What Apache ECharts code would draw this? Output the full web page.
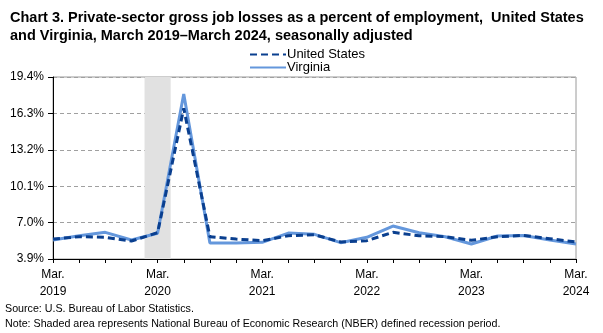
<!DOCTYPE html>
<html><head><meta charset="utf-8">
<script src="https://cdn.jsdelivr.net/npm/echarts@6/dist/echarts.min.js"></script>
<style>html,body{margin:0;padding:0;background:#fff}#c{width:603px;height:333px}</style>
</head><body><div id="c"></div>
<script>
const quarters = ['Mar 2019','Jun 2019','Sep 2019','Dec 2019','Mar 2020','Jun 2020','Sep 2020','Dec 2020','Mar 2021','Jun 2021','Sep 2021','Dec 2021','Mar 2022','Jun 2022','Sep 2022','Dec 2022','Mar 2023','Jun 2023','Sep 2023','Dec 2023','Mar 2024'];
const unitedStates = [5.60,5.80,5.75,5.43,6.14,16.73,5.80,5.60,5.46,5.88,5.96,5.35,5.46,6.17,5.88,5.80,5.49,5.80,5.91,5.63,5.35];
const virginia = [5.52,5.88,6.17,5.52,6.09,17.95,5.26,5.26,5.32,6.11,6.00,5.29,5.75,6.71,6.14,5.80,5.18,5.86,5.91,5.52,5.18];
const yearLabels = ['2019','2020','2021','2022','2023','2024'];
const recession = [3.5, 4.5];
const yTicks = {min:3.9, max:19.4, interval:3.1};

const chart = echarts.init(document.getElementById('c'), null, {renderer:'canvas'});
const font = '"Liberation Sans", Arial, sans-serif';
chart.setOption({
  animation:false,
  textStyle:{fontFamily:font},
  title:{
    text:'Chart 3. Private-sector gross job losses as a percent of employment,  United States\nand Virginia, March 2019\u2013March 2024, seasonally adjusted',
    left:5, top:4,
    textStyle:{fontFamily:font, fontSize:14.5, fontWeight:'bold', color:'#000', lineHeight:18}
  },
  legend:{
    orient:'vertical', left:244, top:43, itemGap:0, itemWidth:36, itemHeight:12,
    itemStyle:{opacity:0},
    textStyle:{fontFamily:font, fontSize:13, color:'#000', padding:[0,0,0,-4]},
    data:['United States','Virginia']
  },
  grid:{left:53, right:27, top:77, bottom:74, show:true, borderColor:'#9a9a9a', borderWidth:1},
  xAxis:{
    type:'value', min:0, max:quarters.length-1, interval:1,
    axisLine:{show:true, lineStyle:{color:'#000', width:1}},
    axisTick:{show:true, length:4, lineStyle:{color:'#000'}},
    splitLine:{show:false},
    axisLabel:{
      fontFamily:font, fontSize:12, color:'#000', lineHeight:17, margin:7,
      formatter:function(v){ return v%4===0 ? 'Mar.\n'+yearLabels[v/4] : ''; }
    }
  },
  yAxis:{
    type:'value', min:yTicks.min, max:yTicks.max, interval:yTicks.interval,
    axisLine:{show:true, lineStyle:{color:'#000', width:1}},
    axisTick:{show:true, length:5, lineStyle:{color:'#000'}},
    splitLine:{show:true, lineStyle:{color:'#a0a0a0', type:[4,3], width:1}},
    axisLabel:{fontFamily:font, fontSize:12, color:'#000', margin:9,
      formatter:function(v){ return v.toFixed(1)+'%'; }}
  },
  series:[
    {
      name:'United States', type:'line', symbol:'none', z:3,
      data:unitedStates.map((v,i)=>[i,v]),
      lineStyle:{color:'#0a3f8f', width:3, type:[7,4]},
      itemStyle:{color:'#0a3f8f'},
      markArea:{silent:true, itemStyle:{color:'#e1e1e1'}, data:[[{xAxis:recession[0]},{xAxis:recession[1]}]]}
    },
    {
      name:'Virginia', type:'line', symbol:'none', z:2,
      data:virginia.map((v,i)=>[i,v]),
      lineStyle:{color:'#6497dc', width:3},
      itemStyle:{color:'#6497dc'}
    }
  ],
  graphic:[
    {type:'text', left:5, top:304, style:{text:'Source: U.S. Bureau of Labor Statistics.', font:'10.7px '+font, fill:'#000'}},
    {type:'text', left:5, top:319, style:{text:'Note: Shaded area represents National Bureau of Economic Research (NBER) defined recession period.', font:'10.7px '+font, fill:'#000'}}
  ]
});
</script></body></html>
